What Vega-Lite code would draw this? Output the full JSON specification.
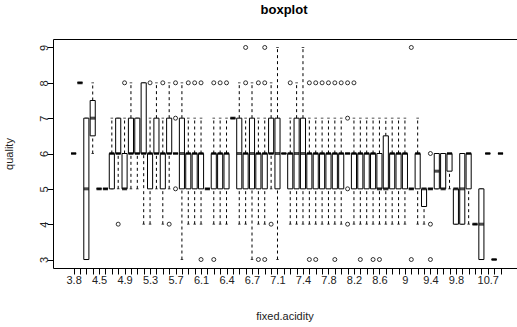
{
  "$schema": "https://vega.github.io/schema/vega-lite/v6.json",
  "width": 468,
  "height": 229,
  "autosize": {"type": "none"},
  "padding": {"left": 53, "top": 39, "right": -4, "bottom": 59},
  "title": {"text": "boxplot", "fontSize": 13, "fontWeight": "bold", "anchor": "middle", "frame": "group", "baseline": "alphabetic", "offset": 12, "dx": -3, "color": "#000"},
  "config": {
    "font": "Liberation Sans",
    "view": {"stroke": "#000", "strokeWidth": 1},
    "axis": {"grid": false, "domain": false, "tickColor": "#000", "tickSize": 6, "labelFontSize": 11, "labelColor": "#222", "titleFontSize": 11, "titleFontWeight": "normal", "titleColor": "#222"},
    "axisX": {"labelAngle": 0, "labelPadding": 0, "labelOverlap": false, "labelFlush": false, "titleX": 231.5, "titleY": 48.5, "titleBaseline": "middle",
      "labelExpr": "indexof(['3.8','4.5','4.9','5.3','5.7','6.1','6.4','6.7','7.1','7.4','7.8','8.2','8.6','9','9.4','9.8','10.7'], datum.label) >= 0 ? datum.label : ''"},
    "axisY": {"labelAngle": 270, "labelAlign": "center", "labelBaseline": "middle", "labelPadding": 3, "titleX": -44, "titleY": 114.5, "titleBaseline": "middle", "titleAngle": 270}
  },
  "datasets": {
    "stats": [
      {"fa":"3.8","lo":6,"q1":6,"med":6,"q3":6,"hi":6},
      {"fa":"3.9","lo":8,"q1":8,"med":8,"q3":8,"hi":8},
      {"fa":"4.2","lo":3,"q1":3,"med":5,"q3":7,"hi":7},
      {"fa":"4.4","lo":6,"q1":6.5,"med":7,"q3":7.5,"hi":8},
      {"fa":"4.5","lo":5,"q1":5,"med":5,"q3":5,"hi":5},
      {"fa":"4.6","lo":5,"q1":5,"med":5,"q3":5,"hi":5},
      {"fa":"4.7","lo":5,"q1":5,"med":6,"q3":6,"hi":7},
      {"fa":"4.8","lo":5,"q1":6,"med":6,"q3":7,"hi":7},
      {"fa":"4.9","lo":5,"q1":5,"med":5,"q3":6,"hi":7},
      {"fa":"5","lo":5,"q1":6,"med":6,"q3":7,"hi":8},
      {"fa":"5.1","lo":5,"q1":6,"med":6,"q3":7,"hi":7},
      {"fa":"5.2","lo":4,"q1":6,"med":6,"q3":8,"hi":8},
      {"fa":"5.3","lo":4,"q1":5,"med":6,"q3":6,"hi":7},
      {"fa":"5.4","lo":5,"q1":6,"med":6,"q3":7,"hi":8},
      {"fa":"5.5","lo":4,"q1":5,"med":6,"q3":6,"hi":7},
      {"fa":"5.6","lo":5,"q1":6,"med":6,"q3":7,"hi":8},
      {"fa":"5.7","lo":6,"q1":6,"med":6,"q3":6,"hi":6},
      {"fa":"5.8","lo":3,"q1":5,"med":6,"q3":7,"hi":8},
      {"fa":"5.9","lo":4,"q1":5,"med":6,"q3":6,"hi":7},
      {"fa":"6","lo":4,"q1":5,"med":6,"q3":6,"hi":7},
      {"fa":"6.1","lo":4,"q1":5,"med":6,"q3":6,"hi":7},
      {"fa":"6.15","lo":5,"q1":5,"med":5,"q3":5,"hi":5},
      {"fa":"6.2","lo":4,"q1":5,"med":6,"q3":6,"hi":7},
      {"fa":"6.3","lo":4,"q1":5,"med":6,"q3":6,"hi":7},
      {"fa":"6.4","lo":4,"q1":5,"med":6,"q3":6,"hi":7},
      {"fa":"6.45","lo":7,"q1":7,"med":7,"q3":7,"hi":7},
      {"fa":"6.5","lo":4,"q1":5,"med":6,"q3":7,"hi":8},
      {"fa":"6.6","lo":4,"q1":5,"med":6,"q3":6,"hi":7},
      {"fa":"6.7","lo":3,"q1":5,"med":6,"q3":7,"hi":8},
      {"fa":"6.8","lo":4,"q1":5,"med":6,"q3":6,"hi":7},
      {"fa":"6.9","lo":4,"q1":5,"med":6,"q3":6,"hi":7},
      {"fa":"7","lo":5,"q1":6,"med":6,"q3":7,"hi":8},
      {"fa":"7.1","lo":3,"q1":5,"med":6,"q3":7,"hi":9},
      {"fa":"7.15","lo":6,"q1":6,"med":6,"q3":6,"hi":6},
      {"fa":"7.2","lo":4,"q1":5,"med":6,"q3":6,"hi":7},
      {"fa":"7.3","lo":4,"q1":5,"med":6,"q3":7,"hi":8},
      {"fa":"7.4","lo":4,"q1":5,"med":6,"q3":7,"hi":9},
      {"fa":"7.5","lo":4,"q1":5,"med":6,"q3":6,"hi":7},
      {"fa":"7.6","lo":4,"q1":5,"med":6,"q3":6,"hi":7},
      {"fa":"7.7","lo":4,"q1":5,"med":6,"q3":6,"hi":7},
      {"fa":"7.8","lo":4,"q1":5,"med":6,"q3":6,"hi":7},
      {"fa":"7.9","lo":4,"q1":5,"med":6,"q3":6,"hi":7},
      {"fa":"8","lo":4,"q1":5,"med":6,"q3":6,"hi":7},
      {"fa":"8.1","lo":6,"q1":6,"med":6,"q3":6,"hi":6},
      {"fa":"8.2","lo":4,"q1":5,"med":6,"q3":6,"hi":7},
      {"fa":"8.3","lo":4,"q1":5,"med":6,"q3":6,"hi":7},
      {"fa":"8.4","lo":4,"q1":5,"med":6,"q3":6,"hi":7},
      {"fa":"8.5","lo":4,"q1":5,"med":6,"q3":6,"hi":7},
      {"fa":"8.6","lo":4,"q1":5,"med":5,"q3":6,"hi":7},
      {"fa":"8.7","lo":4,"q1":5,"med":5,"q3":6.5,"hi":7},
      {"fa":"8.8","lo":4,"q1":5,"med":6,"q3":6,"hi":7},
      {"fa":"8.9","lo":4,"q1":5,"med":6,"q3":6,"hi":7},
      {"fa":"9","lo":4,"q1":5,"med":6,"q3":6,"hi":7},
      {"fa":"9.1","lo":5,"q1":5,"med":5,"q3":5,"hi":5},
      {"fa":"9.2","lo":4,"q1":5,"med":6,"q3":6,"hi":7},
      {"fa":"9.3","lo":4,"q1":4.5,"med":5,"q3":5,"hi":5},
      {"fa":"9.4","lo":5,"q1":5,"med":5,"q3":5,"hi":5},
      {"fa":"9.5","lo":5,"q1":5,"med":5.5,"q3":6,"hi":6},
      {"fa":"9.6","lo":5,"q1":5,"med":5,"q3":6,"hi":6},
      {"fa":"9.7","lo":5,"q1":5.5,"med":6,"q3":6,"hi":6},
      {"fa":"9.8","lo":4,"q1":4,"med":5,"q3":5,"hi":5},
      {"fa":"9.9","lo":4,"q1":4,"med":5,"q3":6,"hi":6},
      {"fa":"10","lo":4,"q1":5,"med":6,"q3":6,"hi":6},
      {"fa":"10.2","lo":4,"q1":4,"med":4,"q3":4,"hi":4},
      {"fa":"10.3","lo":3,"q1":3,"med":4,"q3":5,"hi":5},
      {"fa":"10.7","lo":6,"q1":6,"med":6,"q3":6,"hi":6},
      {"fa":"11.8","lo":3,"q1":3,"med":3,"q3":3,"hi":3},
      {"fa":"14.2","lo":6,"q1":6,"med":6,"q3":6,"hi":6}
    ],
    "out": [
      {"fa":"4.8","quality":4},
      {"fa":"4.9","quality":8},
      {"fa":"5.3","quality":8},
      {"fa":"5.5","quality":8},
      {"fa":"5.6","quality":4},
      {"fa":"5.7","quality":5},
      {"fa":"5.7","quality":7},
      {"fa":"5.7","quality":8},
      {"fa":"5.9","quality":8},
      {"fa":"6","quality":8},
      {"fa":"6.1","quality":8},
      {"fa":"6.1","quality":3},
      {"fa":"6.2","quality":8},
      {"fa":"6.2","quality":3},
      {"fa":"6.3","quality":8},
      {"fa":"6.4","quality":8},
      {"fa":"6.6","quality":8},
      {"fa":"6.6","quality":9},
      {"fa":"6.8","quality":8},
      {"fa":"6.8","quality":3},
      {"fa":"6.9","quality":9},
      {"fa":"6.9","quality":8},
      {"fa":"6.9","quality":3},
      {"fa":"7","quality":4},
      {"fa":"7.2","quality":8},
      {"fa":"7.5","quality":8},
      {"fa":"7.5","quality":3},
      {"fa":"7.6","quality":8},
      {"fa":"7.6","quality":3},
      {"fa":"7.7","quality":8},
      {"fa":"7.8","quality":8},
      {"fa":"7.9","quality":8},
      {"fa":"7.9","quality":3},
      {"fa":"8","quality":8},
      {"fa":"8.1","quality":4},
      {"fa":"8.1","quality":5},
      {"fa":"8.1","quality":7},
      {"fa":"8.1","quality":8},
      {"fa":"8.2","quality":8},
      {"fa":"8.3","quality":3},
      {"fa":"8.5","quality":3},
      {"fa":"8.6","quality":3},
      {"fa":"9.1","quality":9},
      {"fa":"9.1","quality":3},
      {"fa":"9.4","quality":6},
      {"fa":"9.4","quality":4},
      {"fa":"9.4","quality":3}
    ]
  },
  "encoding": {
    "x": {
      "field": "fa", "type": "nominal", "title": "fixed.acidity",
      "scale": {"type": "point", "padding": 0, "range": [20.6, 447.5], "domain": ["3.8","3.9","4.2","4.4","4.5","4.6","4.7","4.8","4.9","5","5.1","5.2","5.3","5.4","5.5","5.6","5.7","5.8","5.9","6","6.1","6.15","6.2","6.3","6.4","6.45","6.5","6.6","6.7","6.8","6.9","7","7.1","7.15","7.2","7.3","7.4","7.5","7.6","7.7","7.8","7.9","8","8.1","8.2","8.3","8.4","8.5","8.6","8.7","8.8","8.9","9","9.1","9.2","9.3","9.4","9.5","9.6","9.7","9.8","9.9","10","10.2","10.3","10.7","11.8","14.2"]}
    }
  },
  "layer": [
    {
      "data": {"name": "stats"},
      "mark": {"type": "rule", "color": "#000", "strokeWidth": 1, "strokeDash": [3, 3]},
      "encoding": {
        "y": {"field": "lo", "type": "quantitative", "title": "quality", "scale": {"domain": [2.76, 9.24], "nice": false, "zero": false}, "axis": {"values": [3,4,5,6,7,8,9]}},
        "y2": {"field": "q1"}
      }
    },
    {
      "data": {"name": "stats"},
      "mark": {"type": "rule", "color": "#000", "strokeWidth": 1, "strokeDash": [3, 3]},
      "encoding": {
        "y": {"field": "q3", "type": "quantitative", "title": "quality", "scale": {"domain": [2.76, 9.24], "nice": false, "zero": false}, "axis": {"values": [3,4,5,6,7,8,9]}},
        "y2": {"field": "hi"}
      }
    },
    {
      "data": {"name": "stats"},
      "mark": {"type": "tick", "color": "#000", "size": 2.6, "thickness": 1, "orient": "horizontal"},
      "encoding": {
        "y": {"field": "lo", "type": "quantitative", "title": "quality", "scale": {"domain": [2.76, 9.24], "nice": false, "zero": false}, "axis": {"values": [3,4,5,6,7,8,9]}}
      }
    },
    {
      "data": {"name": "stats"},
      "mark": {"type": "tick", "color": "#000", "size": 2.6, "thickness": 1, "orient": "horizontal"},
      "encoding": {
        "y": {"field": "hi", "type": "quantitative", "title": "quality", "scale": {"domain": [2.76, 9.24], "nice": false, "zero": false}, "axis": {"values": [3,4,5,6,7,8,9]}}
      }
    },
    {
      "data": {"name": "stats"},
      "mark": {"type": "bar", "width": 5.1, "fill": "#fff", "stroke": "#000", "strokeWidth": 1},
      "encoding": {
        "y": {"field": "q1", "type": "quantitative", "title": "quality", "scale": {"domain": [2.76, 9.24], "nice": false, "zero": false}, "axis": {"values": [3,4,5,6,7,8,9]}},
        "y2": {"field": "q3"}
      }
    },
    {
      "data": {"name": "stats"},
      "mark": {"type": "tick", "color": "#000", "size": 5.1, "thickness": 3, "orient": "horizontal"},
      "encoding": {
        "y": {"field": "med", "type": "quantitative", "title": "quality", "scale": {"domain": [2.76, 9.24], "nice": false, "zero": false}, "axis": {"values": [3,4,5,6,7,8,9]}}
      }
    },
    {
      "data": {"name": "out"},
      "mark": {"type": "point", "shape": "circle", "filled": false, "size": 16, "stroke": "#000", "strokeWidth": 0.8, "opacity": 1},
      "encoding": {
        "y": {"field": "quality", "type": "quantitative", "title": "quality", "scale": {"domain": [2.76, 9.24], "nice": false, "zero": false}, "axis": {"values": [3,4,5,6,7,8,9]}}
      }
    }
  ]
}
